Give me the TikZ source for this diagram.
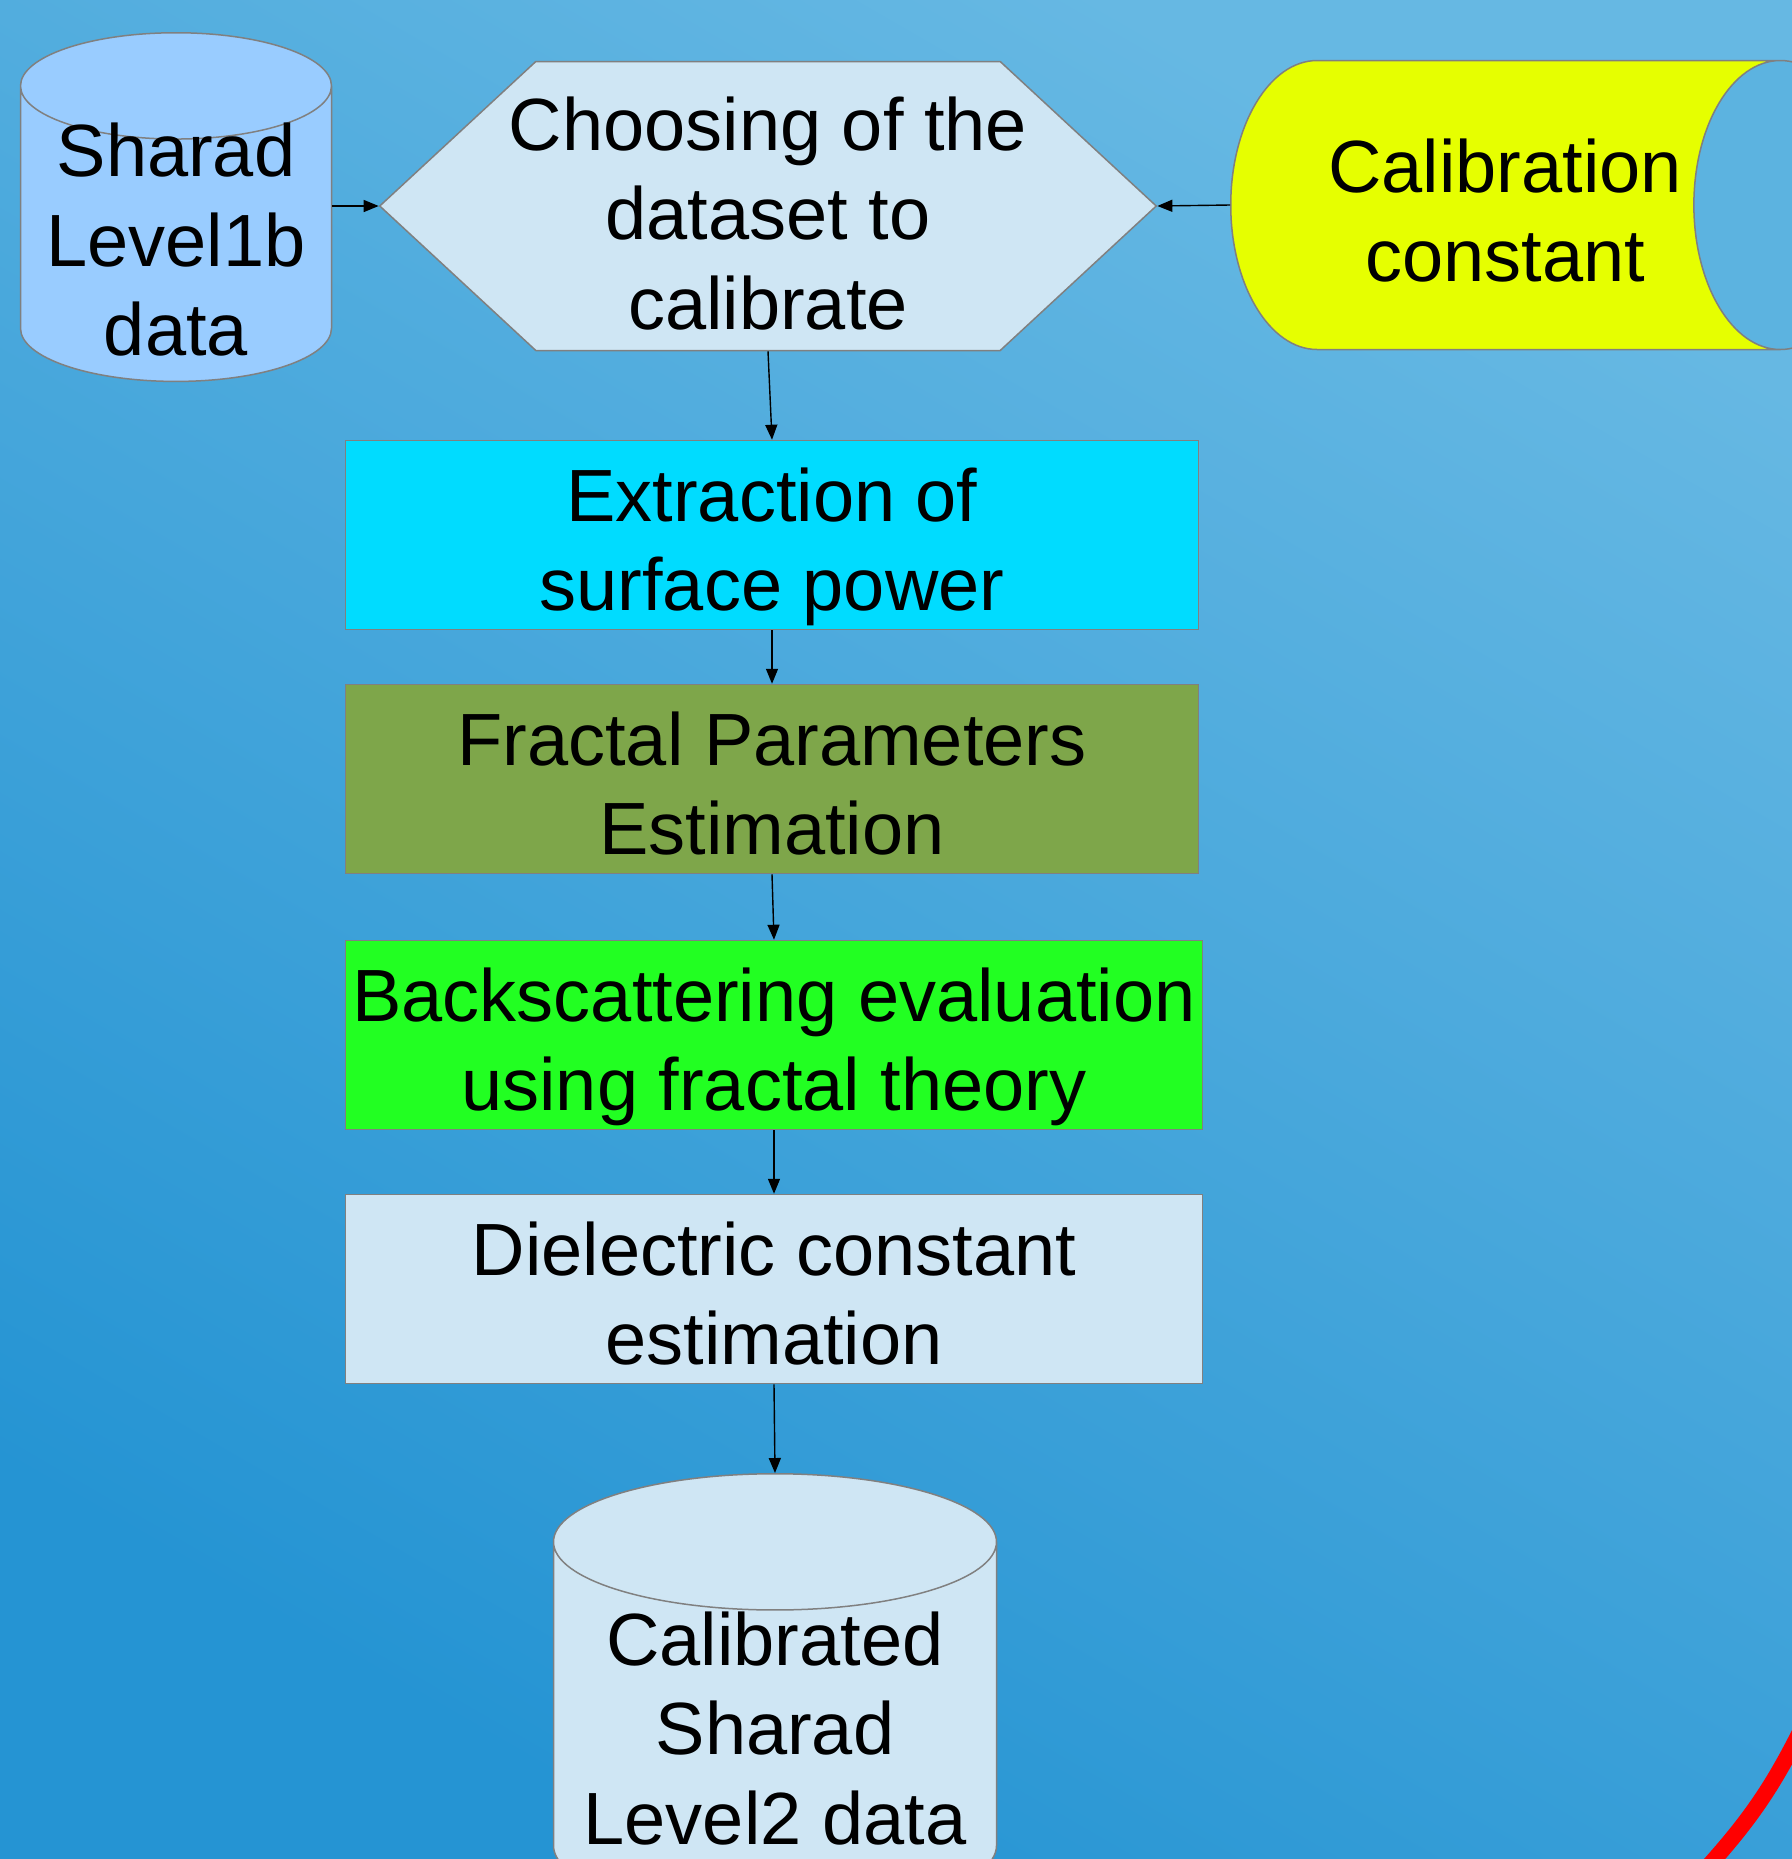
\documentclass[tikz,border=0pt]{standalone}
\usepackage{fontspec}
\setmainfont{Liberation Sans}
\usetikzlibrary{shapes.geometric,shapes.symbols,arrows.meta}

\definecolor{bgtop}{HTML}{66B8E3}
\definecolor{bgbottom}{HTML}{2594D3}
\definecolor{dbblue}{HTML}{99CCFF}
\definecolor{paleblue}{HTML}{CFE6F4}
\definecolor{calyellow}{HTML}{E6FF00}
\definecolor{capblue}{HTML}{5CB3E0}
\definecolor{cyanbox}{HTML}{00DCFF}
\definecolor{olivebox}{HTML}{7EA64A}
\definecolor{greenbox}{HTML}{22FF22}
\definecolor{bordergray}{HTML}{808080}

\tikzset{
  every node/.style={font=\fontsize{37}{44.75}\selectfont, align=center, inner sep=0pt},
  stepbox/.style={rectangle, draw=bordergray, line width=0.75pt, text height=75.5pt, text depth=0pt,
    minimum width=426.5pt, minimum height=94.5pt},
  store/.style={cylinder, shape border rotate=90, draw=bordergray, line width=0.75pt},
  flow/.style={-{Triangle[length=7.5pt,width=6pt]}, line width=0.7pt}
}

\begin{document}
\begin{tikzpicture}[x=0.5pt,y=-0.5pt]

        \useasboundingbox (0,0) rectangle (1792,1859);
        \clip (0,0) rectangle (1792,1859);
        \shade[top color=bgtop, bottom color=bgbottom, shading angle=-30] (0,0) rectangle (1792,1859);

        \node[store, fill=dbblue, aspect=0.41, inner ysep=-13.75pt, text height=121.75pt, text depth=0pt,
              minimum width=155.5pt, minimum height=174pt, anchor=north] (lvl1b) at (176,32) {Sharad\\Level1b\\data};
        \node[signal, signal to=east and west, signal pointer angle=85.6, draw=bordergray, line width=0.75pt, fill=paleblue,
              inner xsep=-13.5pt, text height=123pt, text depth=0pt, minimum width=388pt, minimum height=144.5pt] (choose) at (768,206) {Choosing of the\\dataset to\\calibrate};
        \node[cylinder, draw=bordergray, line width=0.75pt, cylinder uses custom fill, cylinder body fill=calyellow, cylinder end fill=capblue,
              aspect=1.13, text height=76.5pt, text depth=0pt, minimum width=144.5pt, minimum height=318pt, anchor=west] (calib) at (1230,205) {Calibration\\constant};

        \node[stepbox, fill=cyanbox] (extract) at (772,535) {Extraction of\\surface power};
        \node[stepbox, fill=olivebox] (fractal) at (772,779) {Fractal Parameters\\Estimation};
        \node[stepbox, fill=greenbox, minimum width=428.5pt] (backscat) at (774,1035) {Backscattering evaluation\\using fractal theory};
        \node[stepbox, fill=paleblue, minimum width=428.5pt] (dielec) at (774,1289) {Dielectric constant\\estimation};

        \node[store, fill=paleblue, aspect=0.356, minimum width=221.5pt, minimum height=220pt, anchor=north] (lvl2) at (775,1473) {Calibrated\\Sharad\\Level2 data};

        \draw[flow] (lvl1b.east |- choose.west) -- (choose.west);
        \draw[flow] (calib.west) -- (choose.east);
        \draw[flow] (choose.south) -- (extract.north);
        \draw[flow] (extract.south) -- (fractal.north);
        \draw[flow] (fractal.south) -- (backscat.north);
        \draw[flow] (backscat.south) -- (dielec.north);
        \draw[flow] (dielec.south) -- (lvl2.north);

        \draw[red, line width=8pt] (1805,1722) to[bend left=8] (1703,1872);

\end{tikzpicture}
\end{document}
